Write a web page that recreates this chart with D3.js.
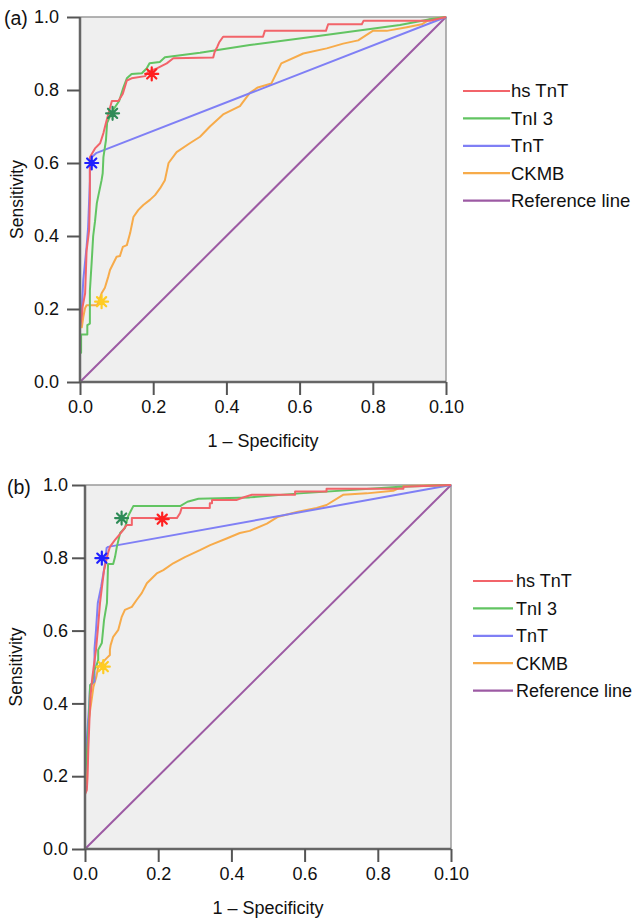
<!DOCTYPE html>
<html>
<head>
<meta charset="utf-8">
<script src="https://cdn.jsdelivr.net/npm/d3@7"></script>
<style>
  body { margin: 0; background: #fff; }
  svg text { font-family: "Liberation Sans", Arial, Helvetica, sans-serif; fill: #111; }
</style>
</head>
<body>
<div id="chart"></div>
<script>
// tick labels (the original x axis ends with "0.10")
var xTickLabels = ['0.0', '0.2', '0.4', '0.6', '0.8', '0.10'];
var yTickLabels = ['0.0', '0.2', '0.4', '0.6', '0.8', '1.0'];
var seriesNames = ['hs TnT', 'TnI 3', 'TnT', 'CKMB', 'Reference line'];

// panel (a): [1 - specificity, sensitivity]
var aHsTnT = [[0,0],[0,0.15],[0.005,0.18],[0.007,0.205],[0.014,0.243],[0.016,0.3],[0.018,0.36],[0.025,0.417],[0.027,0.5],[0.027,0.616],[0.041,0.64],[0.055,0.654],[0.064,0.682],[0.071,0.71],[0.078,0.736],[0.087,0.77],[0.105,0.77],[0.117,0.79],[0.128,0.826],[0.141,0.832],[0.178,0.838],[0.186,0.85],[0.21,0.859],[0.237,0.873],[0.255,0.887],[0.364,0.889],[0.368,0.905],[0.375,0.918],[0.38,0.93],[0.391,0.946],[0.5,0.946],[0.505,0.962],[0.672,0.962],[0.678,0.98],[0.77,0.98],[0.775,0.99],[0.956,0.99],[1,1]];
var aTnI3 = [[0,0],[0,0.08],[0.003,0.08],[0.003,0.13],[0.02,0.13],[0.02,0.156],[0.027,0.16],[0.027,0.25],[0.032,0.33],[0.036,0.4],[0.041,0.44],[0.046,0.49],[0.05,0.51],[0.059,0.553],[0.062,0.572],[0.064,0.616],[0.071,0.663],[0.074,0.71],[0.09,0.745],[0.107,0.77],[0.118,0.805],[0.128,0.832],[0.141,0.844],[0.169,0.846],[0.182,0.859],[0.19,0.873],[0.218,0.877],[0.232,0.89],[0.328,0.902],[0.464,0.923],[0.6,0.941],[0.874,0.978],[0.956,0.994],[1,1]];
var aTnT = [[0,0],[0,0.15],[0.005,0.2],[0.009,0.28],[0.018,0.37],[0.022,0.42],[0.027,0.55],[0.027,0.6],[0.032,0.616],[0.044,0.627],[1,1]];
var aCKMB = [[0,0],[0,0.15],[0.005,0.15],[0.009,0.178],[0.014,0.203],[0.018,0.21],[0.046,0.21],[0.05,0.217],[0.059,0.243],[0.068,0.258],[0.077,0.288],[0.082,0.307],[0.1,0.343],[0.109,0.345],[0.117,0.37],[0.128,0.375],[0.137,0.408],[0.146,0.452],[0.159,0.471],[0.173,0.485],[0.191,0.499],[0.205,0.512],[0.219,0.531],[0.232,0.553],[0.242,0.6],[0.264,0.63],[0.3,0.654],[0.328,0.672],[0.355,0.7],[0.391,0.733],[0.437,0.756],[0.464,0.792],[0.486,0.807],[0.523,0.818],[0.55,0.873],[0.61,0.9],[0.674,0.914],[0.719,0.927],[0.76,0.936],[0.8,0.962],[0.838,0.962],[0.893,0.972],[0.934,0.98],[0.956,0.994],[1,1]];
var aCutoffs = [['hs TnT', 0.196, 0.844], ['TnI 3', 0.089, 0.736], ['TnT', 0.032, 0.6], ['CKMB', 0.059, 0.22]];

// panel (b)
var bHsTnT = [[0,0],[0,0.15],[0.005,0.162],[0.007,0.2],[0.009,0.272],[0.012,0.35],[0.015,0.42],[0.02,0.47],[0.025,0.51],[0.03,0.547],[0.035,0.602],[0.041,0.676],[0.052,0.766],[0.063,0.813],[0.068,0.83],[0.082,0.849],[0.093,0.862],[0.104,0.876],[0.114,0.89],[0.128,0.89],[0.128,0.909],[0.251,0.909],[0.26,0.923],[0.264,0.937],[0.341,0.937],[0.341,0.95],[0.347,0.95],[0.347,0.959],[0.415,0.959],[0.43,0.965],[0.456,0.973],[0.574,0.973],[0.574,0.982],[0.66,0.982],[0.66,0.99],[0.87,0.99],[0.87,0.995],[1,1]];
var bTnI3 = [[0,0],[0,0.2],[0.008,0.3],[0.011,0.363],[0.014,0.45],[0.02,0.456],[0.025,0.492],[0.03,0.5],[0.036,0.519],[0.036,0.547],[0.046,0.566],[0.052,0.629],[0.06,0.676],[0.063,0.783],[0.077,0.783],[0.082,0.802],[0.087,0.83],[0.096,0.868],[0.109,0.882],[0.118,0.915],[0.132,0.942],[0.26,0.942],[0.28,0.954],[0.31,0.962],[0.45,0.966],[0.587,0.977],[0.86,0.995],[1,1]];
var bTnT = [[0,0],[0,0.2],[0.005,0.3],[0.011,0.39],[0.014,0.45],[0.026,0.46],[0.026,0.55],[0.03,0.6],[0.035,0.676],[0.044,0.72],[0.055,0.785],[0.059,0.827],[0.063,0.83],[1,1]];
var bCKMB = [[0,0],[0,0.18],[0.005,0.18],[0.007,0.272],[0.009,0.346],[0.018,0.409],[0.023,0.445],[0.031,0.473],[0.036,0.5],[0.045,0.51],[0.06,0.525],[0.068,0.533],[0.068,0.547],[0.07,0.56],[0.077,0.583],[0.091,0.602],[0.1,0.637],[0.109,0.657],[0.128,0.665],[0.141,0.684],[0.155,0.703],[0.169,0.73],[0.196,0.757],[0.214,0.766],[0.241,0.785],[0.273,0.802],[0.314,0.821],[0.342,0.835],[0.387,0.853],[0.423,0.868],[0.45,0.874],[0.497,0.894],[0.528,0.913],[0.579,0.926],[0.633,0.937],[0.66,0.945],[0.705,0.973],[0.77,0.977],[0.842,0.984],[0.87,0.997],[1,1]];
var bCutoffs = [['hs TnT', 0.211, 0.906], ['TnI 3', 0.1, 0.909], ['TnT', 0.046, 0.799], ['CKMB', 0.05, 0.501]];

var refLine = [[0,0],[1,1]];

var lineColor = {'hs TnT': '#f2646a', 'TnI 3': '#62c462', 'TnT': '#7f7ff5', 'CKMB': '#f7ab4a', 'Reference line': '#9c5aa3'};
var starColor = {'hs TnT': '#ff2020', 'TnI 3': '#2e8b57', 'TnT': '#2020ff', 'CKMB': '#ffcc22'};

var svg = d3.select('#chart').append('svg')
    .attr('width', 635)
    .attr('height', 919);

/**
 * Draw one ROC panel
 */
function drawPanel(p) {
    var x = d3.scaleLinear().domain([0, 1]).range([p.left, p.left + p.w]);
    var y = d3.scaleLinear().domain([0, 1]).range([p.top + p.h, p.top]);
    var g = svg.append('g');

    // plot background + light frame on top and right
    g.append('rect')
        .attr('x', x(0)).attr('y', y(1))
        .attr('width', x(1) - x(0)).attr('height', y(0) - y(1))
        .attr('fill', '#efefef');
    g.append('path')
        .attr('d', 'M' + x(0) + ',' + y(1) + 'H' + x(1) + 'V' + y(0))
        .attr('fill', 'none')
        .attr('stroke', '#9a9a9a')
        .attr('stroke-width', 1.5);

    var line = d3.line()
        .x(function(d) { return x(d[0]); })
        .y(function(d) { return y(d[1]); });

    // reference line first, then the curves
    g.append('path').datum(refLine)
        .attr('d', line).attr('fill', 'none')
        .attr('stroke', lineColor['Reference line']).attr('stroke-width', 2);

    p.series.slice().reverse().forEach(function(s) {
        g.append('path').datum(s.values)
            .attr('d', line).attr('fill', 'none')
            .attr('stroke', lineColor[s.name])
            .attr('stroke-width', 2)
            .attr('stroke-linejoin', 'round');
    });

    // cutoff asterisks
    var r = 6.5;
    p.cutoffs.forEach(function(c) {
        var cx = x(c[1]), cy = y(c[2]);
        var d = '';
        [0, 45, 90, 135].forEach(function(a) {
            var rad = a * Math.PI / 180;
            d += 'M' + (cx - r * Math.cos(rad)) + ',' + (cy - r * Math.sin(rad)) +
                 'L' + (cx + r * Math.cos(rad)) + ',' + (cy + r * Math.sin(rad));
        });
        g.append('path').attr('d', d)
            .attr('stroke', starColor[c[0]])
            .attr('stroke-width', 2.2)
            .attr('stroke-linecap', 'round');
    });

    // axes
    var yAxis = d3.axisLeft(y)
        .tickValues([0, 0.2, 0.4, 0.6, 0.8, 1])
        .tickFormat(function(d, i) { return yTickLabels[i]; })
        .tickSize(13).tickPadding(p.yPad);
    var xAxis = d3.axisBottom(x)
        .tickValues([0, 0.2, 0.4, 0.6, 0.8, 1])
        .tickFormat(function(d, i) { return xTickLabels[i]; })
        .tickSize(13).tickPadding(5);

    var ya = g.append('g')
        .attr('transform', 'translate(' + x(0) + ',0)')
        .call(yAxis);
    var xa = g.append('g')
        .attr('transform', 'translate(0,' + y(0) + ')')
        .call(xAxis);
    [ya, xa].forEach(function(a) {
        a.select('.domain').attr('stroke', '#666').attr('stroke-width', 2.5);
        a.selectAll('.tick line').attr('stroke', '#555').attr('stroke-width', 2);
        a.selectAll('.tick text').style('font-size', '18px').attr('fill', '#111');
    });
    ya.select('.domain').attr('d', 'M0,' + y(0) + 'V' + y(1));
    xa.select('.domain').attr('d', 'M' + x(0) + ',0H' + x(1));

    // axis titles
    g.append('text')
        .attr('x', (x(0) + x(1)) / 2)
        .attr('y', p.xTitleY)
        .attr('text-anchor', 'middle')
        .style('font-size', '18px')
        .text('1 \u2013 Specificity');
    g.append('text')
        .attr('transform', 'translate(' + p.yTitleX + ',' + ((y(0) + y(1)) / 2) + ') rotate(-90)')
        .attr('text-anchor', 'middle')
        .style('font-size', '17.5px')
        .text('Sensitivity');

    // panel tag
    g.append('text')
        .attr('x', p.tagX).attr('y', p.tagY)
        .style('font-size', '19.5px')
        .text(p.tag);

    // legend
    seriesNames.forEach(function(n, i) {
        var ly = p.legY + i * 27.4;
        g.append('line')
            .attr('x1', p.legX).attr('x2', p.legX + p.legLen)
            .attr('y1', ly).attr('y2', ly)
            .attr('stroke', lineColor[n]).attr('stroke-width', 2.2);
        g.append('text')
            .attr('x', p.legX + p.legLen + p.legGap).attr('y', ly)
            .attr('dy', '0.35em')
            .style('font-size', p.legFont)
            .text(n);
    });
}

drawPanel({
    tag: '(a)', tagX: 4, tagY: 25,
    left: 80, top: 17, w: 366, h: 365,
    yPad: 8, xTitleY: 447, yTitleX: 23,
    legX: 463, legY: 91, legLen: 47, legGap: 1, legFont: '18.5px',
    series: [
        {name: 'hs TnT', values: aHsTnT},
        {name: 'TnI 3', values: aTnI3},
        {name: 'TnT', values: aTnT},
        {name: 'CKMB', values: aCKMB}
    ],
    cutoffs: aCutoffs
});

drawPanel({
    tag: '(b)', tagX: 7, tagY: 494,
    left: 85, top: 485, w: 366, h: 364,
    yPad: 4, xTitleY: 914, yTitleX: 22,
    legX: 473, legY: 581, legLen: 40, legGap: 3, legFont: '18px',
    series: [
        {name: 'hs TnT', values: bHsTnT},
        {name: 'TnI 3', values: bTnI3},
        {name: 'TnT', values: bTnT},
        {name: 'CKMB', values: bCKMB}
    ],
    cutoffs: bCutoffs
});
</script>
</body>
</html>
